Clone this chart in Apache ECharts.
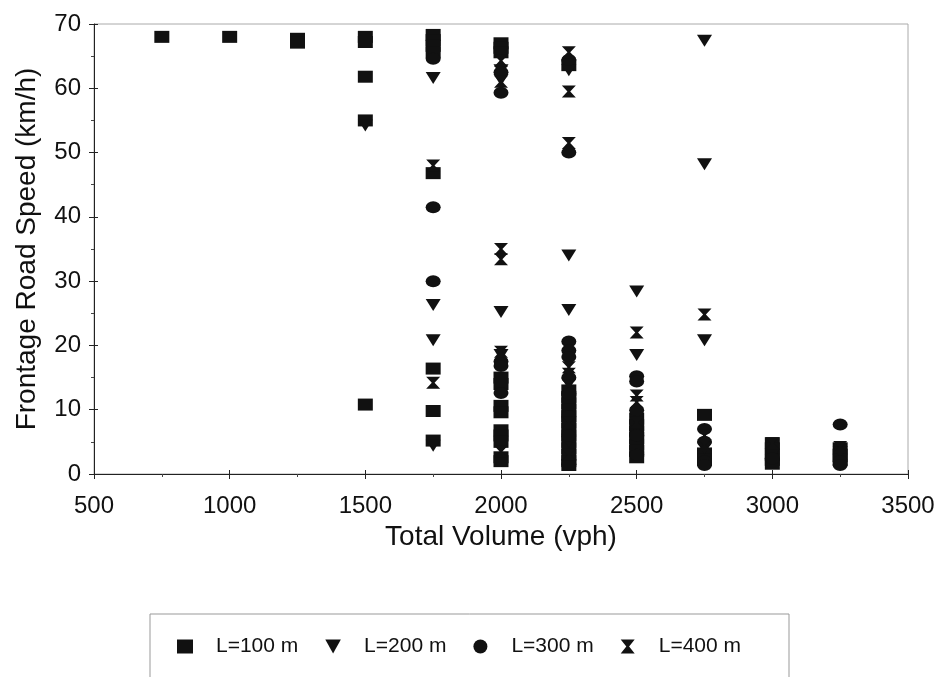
<!DOCTYPE html>
<html>
<head>
<meta charset="utf-8">
<script src="https://cdn.jsdelivr.net/npm/echarts@6/dist/echarts.min.js"></script>
<style>
html,body{margin:0;padding:0;background:#fff;}
#chart{width:938px;height:677px;}
</style>
</head>
<body>
<div id="chart"></div>
<script>
// ---- data (x = Total Volume vph, y = Frontage Road Speed km/h) ----
var seriesNames = ['L=100 m', 'L=200 m', 'L=300 m', 'L=400 m'];
var xTicks = [500, 1000, 1500, 2000, 2500, 3000, 3500];
var yTicks = [0, 10, 20, 30, 40, 50, 60, 70];

var dataL100 = [
  [750,68],[1000,68],[1250,67.7],[1250,67.1],
  [1500,68],[1500,67.2],[1500,61.8],[1500,55],[1500,10.8],
  [1750,68.3],[1750,67.5],[1750,66.6],[1750,65.6],[1750,46.8],[1750,16.4],[1750,9.8],[1750,5.2],
  [2000,67],[2000,66.3],[2000,65.6],[2000,15],[2000,14],[2000,10.6],[2000,9.6],[2000,6.8],[2000,6],[2000,5],[2000,2.6],[2000,2],
  [2250,63.6],[2250,13],[2250,12],[2250,11],[2250,10],[2250,9],[2250,8],[2250,7],[2250,6],[2250,5],[2250,4],[2250,3],[2250,2],[2250,1.4],
  [2500,8.6],[2500,7.6],[2500,6.6],[2500,5.6],[2500,4.6],[2500,3.6],[2500,2.6],
  [2750,9.2],[2750,3.2],[2750,2.2],
  [3000,4.8],[3000,4],[3000,3],[3000,2.2],[3000,1.6],
  [3250,4],[3250,3],[3250,2.2]
];
var dataL200 = [
  [1500,54.2],[1750,61.6],[1750,26.3],[1750,20.8],[1750,4.4],
  [2000,62.8],[2000,61.3],[2000,25.2],[2000,18.5],
  [2250,62.8],[2250,34],[2250,25.5],[2250,14],[2250,5],
  [2500,28.4],[2500,18.5],[2500,6],
  [2750,67.4],[2750,48.2],[2750,20.8],[2750,4],
  [3000,3],[3250,3.4]
];
var dataL300 = [
  [1750,64.6],[1750,41.5],[1750,30],
  [2000,62.5],[2000,59.3],[2000,17.5],[2000,16.8],[2000,12.6],
  [2250,64.4],[2250,50],[2250,20.6],[2250,19.2],[2250,18.2],[2250,15],[2250,12.5],[2250,9],[2250,6],[2250,1.5],
  [2500,15.2],[2500,14.4],[2500,9.9],[2500,6],[2500,3],
  [2750,7],[2750,5],[2750,2],[2750,1.4],
  [3000,2.4],[3250,7.7],[3250,2],[3250,1.4]
];
var dataL400 = [
  [1750,48],[1750,14.2],
  [2000,64.3],[2000,61],[2000,35],[2000,33.4],[2000,19],[2000,3.5],
  [2250,65.6],[2250,59.5],[2250,51.5],[2250,16.6],[2250,15.6],[2250,8],[2250,3],
  [2500,22],[2500,12.2],[2500,11.2],[2500,8],
  [2750,24.8],[2750,6],[2750,4.5],
  [3000,4.8],[3250,4.2]
];

var symSquare = 'rect';
var symTriDown = 'path://M0,0L10,0L5,9Z';
var symCircle = 'circle';
var symBowtie = 'path://M0,0L10,0L6,5L10,10L0,10L4,5Z';

var FONT = "'Liberation Sans', Arial, sans-serif";
var chart = echarts.init(document.getElementById('chart'), null, {renderer:'canvas'});

function scatter(name, data, symbol, size) {
  return {
    name: name, type: 'scatter', data: data,
    xAxisIndex: 0, yAxisIndex: 0,
    symbol: symbol, symbolSize: size,
    itemStyle: {color: '#111', opacity: 1},
    emphasis: {disabled: true},
    animation: false
  };
}
function plain(v) { return String(v); }

var axisBase = {
  type: 'value',
  axisLine: {show: true, lineStyle: {color: '#222', width: 1}},
  splitLine: {show: false}
};

var option = {
  backgroundColor: '#fff',
  animation: false,
  grid: {left: 94, right: 30, top: 24, bottom: 203, show: true, borderColor: '#aaa', borderWidth: 1, backgroundColor: 'transparent'},
  legend: {
    data: seriesNames,
    left: 150, top: 614,
    orient: 'horizontal',
    padding: [22, 48, 60, 27],
    itemWidth: 16, itemHeight: 14,
    itemGap: 27,
    borderColor: '#999', borderWidth: 1,
    textStyle: {fontFamily: FONT, fontSize: 21, color: '#111', padding: [0, 0, 0, 18]},
    itemStyle: {color: '#111'}
  },
  xAxis: [
    Object.assign({}, axisBase, {
      min: xTicks[0], max: xTicks[xTicks.length - 1], interval: 500,
      position: 'bottom',
      name: 'Total Volume (vph)', nameLocation: 'middle', nameGap: 42,
      nameTextStyle: {fontFamily: FONT, fontSize: 28, color: '#111'},
      axisTick: {show: true, inside: false, length: 5, lineStyle: {color: '#222'}},
      minorTick: {show: true, splitNumber: 2, length: 3, lineStyle: {color: '#444'}},
      axisLabel: {fontFamily: FONT, fontSize: 24, color: '#111', margin: 20, showMaxLabel: true, showMinLabel: true, formatter: plain}
    }),
    Object.assign({}, axisBase, {
      min: xTicks[0], max: xTicks[xTicks.length - 1], interval: 500,
      position: 'bottom', axisLine: {show: false},
      axisTick: {show: true, inside: true, length: 4, lineStyle: {color: '#222'}},
      axisLabel: {show: false}
    })
  ],
  yAxis: [
    Object.assign({}, axisBase, {
      min: yTicks[0], max: yTicks[yTicks.length - 1], interval: 10,
      position: 'left',
      name: 'Frontage Road Speed (km/h)', nameLocation: 'middle', nameGap: 53,
      nameTextStyle: {fontFamily: FONT, fontSize: 28, color: '#111'},
      axisTick: {show: true, inside: false, length: 5, lineStyle: {color: '#222'}},
      minorTick: {show: true, splitNumber: 2, length: 3, lineStyle: {color: '#444'}},
      axisLabel: {fontFamily: FONT, fontSize: 24, color: '#111', margin: 13, formatter: plain}
    }),
    Object.assign({}, axisBase, {
      min: yTicks[0], max: yTicks[yTicks.length - 1], interval: 10,
      position: 'left', axisLine: {show: false},
      axisTick: {show: true, inside: true, length: 4, lineStyle: {color: '#222'}},
      axisLabel: {show: false}
    })
  ],
  series: [
    scatter(seriesNames[0], dataL100, symSquare, [15, 12]),
    scatter(seriesNames[1], dataL200, symTriDown, [15, 12]),
    scatter(seriesNames[2], dataL300, symCircle, [15, 12]),
    scatter(seriesNames[3], dataL400, symBowtie, [14, 12])
  ]
};
chart.setOption(option);
</script>
</body>
</html>
